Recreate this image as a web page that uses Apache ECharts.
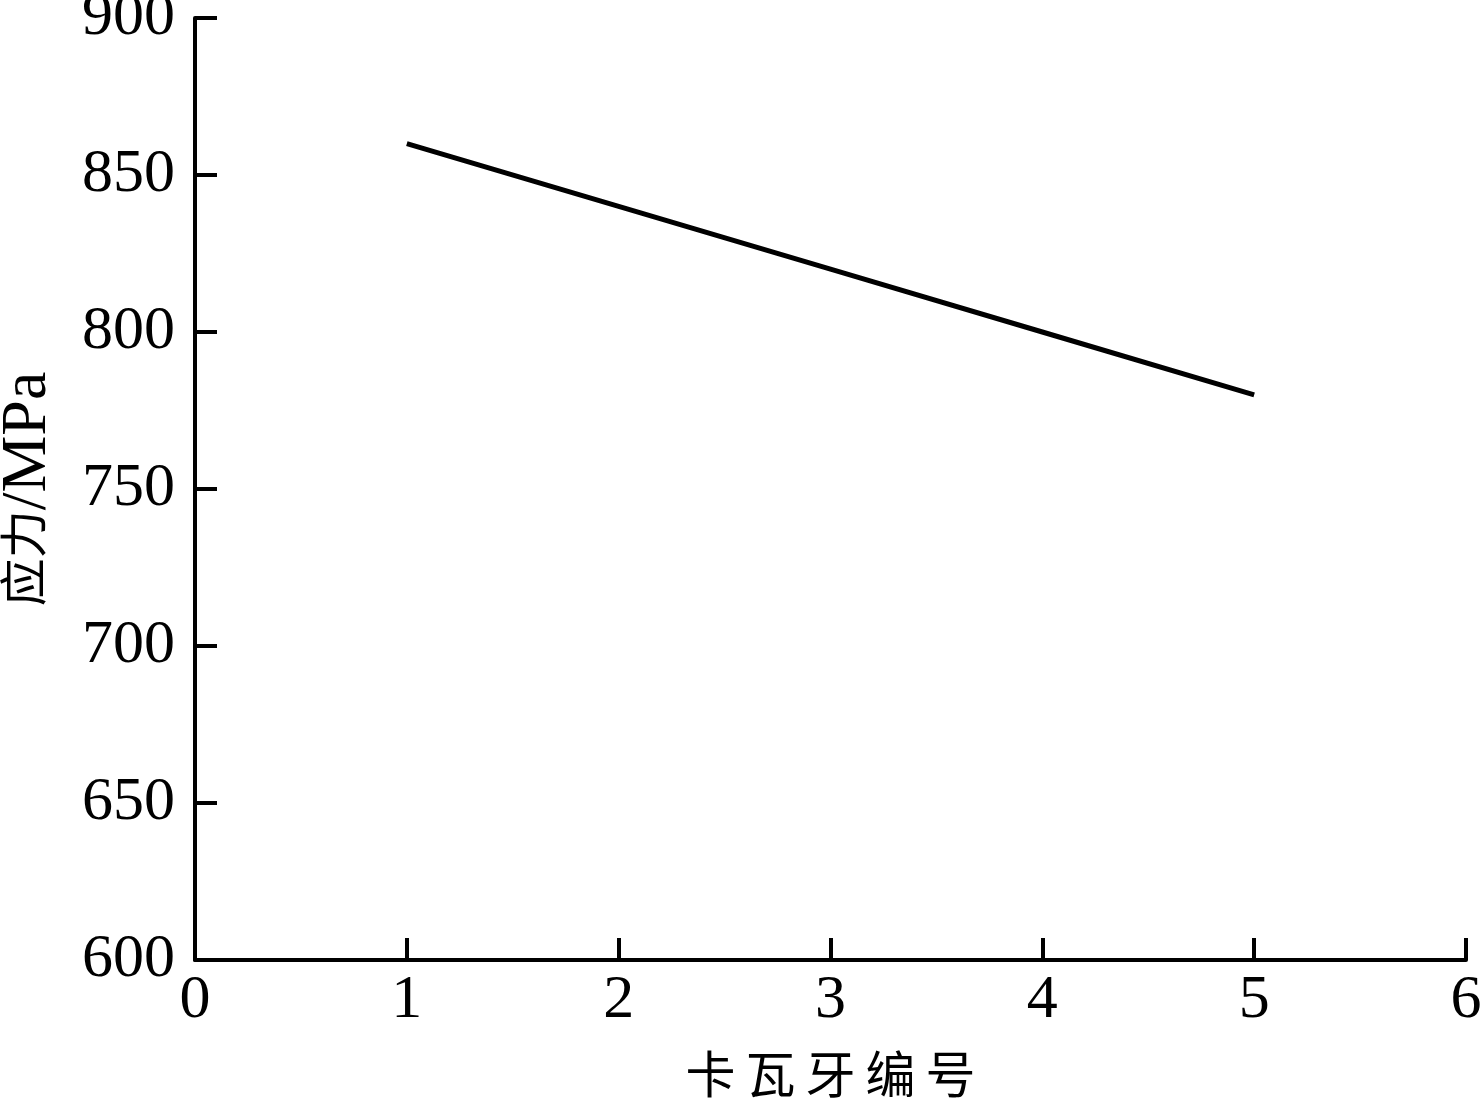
<!DOCTYPE html>
<html>
<head>
    <meta charset="utf-8">
    <title>ECharts</title>
    <script src="https://cdn.jsdelivr.net/npm/echarts@6/dist/echarts.min.js"></script>
</head>
<style>
    *{
        padding: 0;
        margin: 0;
    }
    #main {
        width: 1480px;
        height: 1103px;
        position: absolute;
        background: #fff;
    }
</style>
<body>
    <div id="main"></div>
    <script type="text/javascript">
    // 卡瓦牙编号 与 应力
    var toothNo = [1, 2, 3, 4, 5];
    var stress = [860, 840, 820, 800, 780];
    var xTicks = [0, 1, 2, 3, 4, 5, 6];
    var yTicks = [600, 650, 700, 750, 800, 850, 900];

    var data = toothNo.map(function (x, i) { return [x, stress[i]]; });
    var serif = '"Liberation Serif", "Times New Roman", serif';
    var cjk = '"Liberation Serif", "Noto Sans CJK SC", serif';

    var myChart = echarts.init(document.getElementById('main'));
    var option = {
        animation: false,
        backgroundColor: '#fff',
        grid: { left: 195, top: 18, right: 14, bottom: 143, containLabel: false, outerBoundsMode: 'none' },
        xAxis: {
            type: 'value',
            min: xTicks[0],
            max: xTicks[xTicks.length - 1],
            interval: 1,
            name: '卡\u2009瓦\u2009牙\u2009编\u2009号',
            nameLocation: 'middle',
            nameGap: 95,
            nameTextStyle: { fontFamily: cjk, fontSize: 50, color: '#000' },
            axisLine: { lineStyle: { color: '#000', width: 4 } },
            axisTick: { inside: true, length: 22, lineStyle: { color: '#000', width: 4 } },
            axisLabel: { fontFamily: serif, fontSize: 62, color: '#000', margin: 10 },
            splitLine: { show: false }
        },
        yAxis: {
            type: 'value',
            min: yTicks[0],
            max: yTicks[yTicks.length - 1],
            interval: 50,
            name: '{c|应力}{l|/MPa}',
            nameLocation: 'middle',
            nameGap: 135,
            nameTextStyle: {
                color: '#000',
                rich: {
                    c: { fontFamily: cjk, fontSize: 48, color: '#000' },
                    l: { fontFamily: serif, fontSize: 64, color: '#000' }
                }
            },
            axisLine: { lineStyle: { color: '#000', width: 4 } },
            axisTick: { inside: true, length: 22, lineStyle: { color: '#000', width: 4 } },
            axisLabel: { fontFamily: serif, fontSize: 62, color: '#000', margin: 20 },
            splitLine: { show: false }
        },
        series: [{
            type: 'line',
            data: data,
            symbol: 'none',
            lineStyle: { color: '#000', width: 5 }
        }]
    };
    myChart.setOption(option);
    </script>
</body>
</html>
